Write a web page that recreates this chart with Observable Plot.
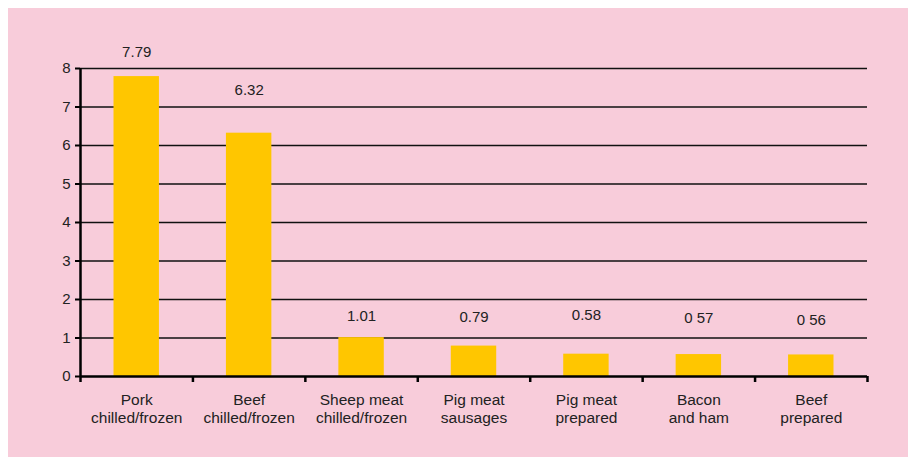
<!DOCTYPE html>
<html>
<head>
<meta charset="utf-8">
<script src="https://cdn.jsdelivr.net/npm/d3@7"></script>
<script src="https://cdn.jsdelivr.net/npm/@observablehq/plot@0.6"></script>
<style>
  html, body { margin: 0; padding: 0; background: #ffffff; }
  #chart { position: absolute; left: 8px; top: 8px; }
  #chart svg { display: block; }
</style>
</head>
<body>
<div id="chart"></div>
<script>
// Meat product categories along the x axis
const categories = [
  "Pork\nchilled/frozen",
  "Beef\nchilled/frozen",
  "Sheep meat\nchilled/frozen",
  "Pig meat\nsausages",
  "Pig meat\nprepared",
  "Bacon\nand ham",
  "Beef\nprepared"
];
// Bar values
const values = [7.79, 6.32, 1.01, 0.79, 0.58, 0.57, 0.56];
// Value labels as printed above each bar
const valueLabels = ["7.79", "6.32", "1.01", "0.79", "0.58", "0 57", "0 56"];
// Height (in axis units) at which each value label sits
const labelLevels = [8.42, 7.43, 1.57, 1.54, 1.60, 1.51, 1.45];
// Y axis ticks
const yTicks = [0, 1, 2, 3, 4, 5, 6, 7, 8];

const rows = categories.map((c, i) => ({
  i, category: c, value: values[i], label: valueLabels[i], level: labelLevels[i]
}));
const slotEdges = d3.range(categories.length + 1);

const ink = "#222222";

const chart = Plot.plot({
  width: 900,
  height: 449,
  marginLeft: 72,
  marginRight: 41,
  marginTop: 60,
  marginBottom: 81,
  style: {
    background: "#f8ccda",
    fontFamily: "'Liberation Sans', Arial, sans-serif",
    fontSize: "15px",
    color: ink
  },
  x: { type: "linear", domain: [0, categories.length], axis: null },
  y: { domain: [0, 8], axis: null },
  marks: [
    // horizontal gridlines
    Plot.ruleY(yTicks.slice(1), { stroke: "#111", strokeWidth: 1.5 }),
    // bars, one per category slot
    Plot.rectY(rows, {
      x1: d => d.i,
      x2: d => d.i + 1,
      y: "value",
      fill: "#ffc600",
      insetLeft: 33.5,
      insetRight: 33.5
    }),
    // axis lines
    Plot.ruleY([0], { stroke: "#000", strokeWidth: 2.5 }),
    Plot.ruleX([0], { stroke: "#000", strokeWidth: 2.5 }),
    // y axis ticks and labels
    Plot.axisY({
      ticks: yTicks,
      tickSize: 5,
      tickPadding: 5,
      stroke: "#000",
      strokeWidth: 2,
      fill: ink,
      fontSize: 15
    }),
    // x axis ticks at the slot boundaries
    Plot.axisX({
      ticks: slotEdges,
      tickSize: 6,
      tickFormat: () => "",
      stroke: "#000",
      strokeWidth: 2.5
    }),
    // category labels under each slot
    Plot.text(rows, {
      x: d => d.i + 0.5,
      y: 0,
      text: "category",
      lineAnchor: "top",
      dy: 15.5,
      fontSize: 15.5,
      lineHeight: 1.18,
      fill: ink
    }),
    // value labels above the bars
    Plot.text(rows, {
      x: d => d.i + 0.5,
      y: "level",
      text: "label",
      fontSize: 15,
      fill: ink
    })
  ]
});

document.getElementById("chart").appendChild(chart);
</script>
</body>
</html>
